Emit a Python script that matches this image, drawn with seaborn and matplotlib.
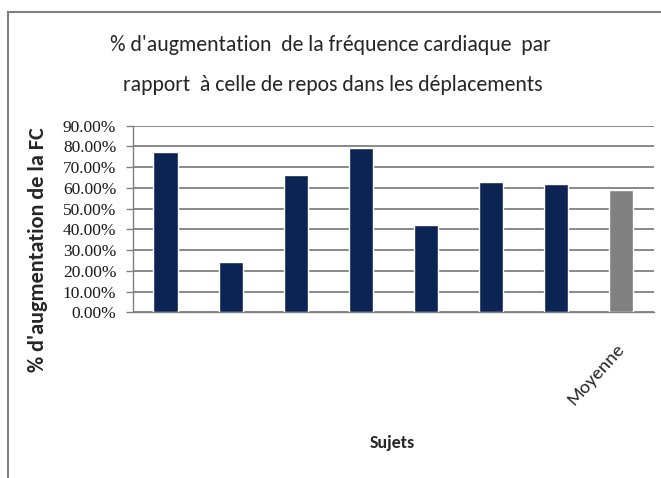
import numpy as np
import pandas as pd
import seaborn as sns
import matplotlib.pyplot as plt
from matplotlib.patches import Rectangle

# values (fraction of resting heart rate)
sujets = ["S1", "S2", "S3", "S4", "S5", "S6", "S7", "Moyenne"]
augmentation = [0.775, 0.243, 0.662, 0.794, 0.421, 0.629, 0.619, 0.592]
tick_labels = ["", "", "", "", "", "", "", "Moyenne"]
bar_colors = ["#002060"] * 7 + ["#808080"]
y_ticks = [0.0, 0.1, 0.2, 0.3, 0.4, 0.5, 0.6, 0.7, 0.8, 0.9]

data = pd.DataFrame({"sujet": sujets, "augmentation": augmentation})

sns.set_style("white")
plt.rcParams['font.family'] = ['Carlito', 'Lato', 'DejaVu Sans']

fig = plt.figure(figsize=(6.61, 4.78), dpi=100)
ax = fig.add_axes([0.2012, 0.3467, 0.7875, 0.3903])

sns.barplot(data=data, x="sujet", y="augmentation", hue="sujet",
            palette=bar_colors, width=0.37, legend=False, ax=ax, zorder=3)

ax.set_ylim(0, 0.9)
ax.set_xlim(-0.5, len(sujets) - 0.5)
ax.yaxis.grid(True, color='#808080', linewidth=1.3, zorder=0)
ax.xaxis.grid(False)
ax.tick_params(axis='y', length=5, color='#808080', width=1, pad=7, left=True,
               labelsize=12.5, labelcolor='#1a1a1a',
               labelfontfamily='Liberation Serif')
ax.set_yticks(y_ticks)
ax.set_yticklabels([f"{v * 100:.2f}%" for v in y_ticks])

# category ticks sit between the bars
ax.tick_params(axis='x', which='major', length=0, pad=24)
ax.tick_params(axis='x', which='minor', length=7, color='#808080', width=1)
ax.set_xticks(range(len(sujets)))
ax.set_xticklabels(tick_labels, rotation=48, ha='right', va='center',
                   rotation_mode='anchor', fontsize=14)
ax.set_xticks(np.arange(-0.5, len(sujets)), minor=True)

for side in ['top', 'right']:
    ax.spines[side].set_visible(False)
for side in ['left', 'bottom']:
    ax.spines[side].set_color('#808080')
    ax.spines[side].set_linewidth(1)

ax.set_xlabel("")
ax.set_ylabel("")
fig.text(392 / 661, 1 - 443 / 478, "Sujets", ha='center', va='center',
         fontsize=13, fontweight='bold')
fig.text(38 / 661, 1 - 250 / 478, "% d'augmentation de la FC", ha='center',
         va='center', rotation=90, fontsize=16, fontweight='bold')

fig.text(0.500, 0.905, "% d'augmentation  de la fréquence cardiaque  par",
         ha='center', va='center', fontsize=15.7)
fig.text(0.503, 0.822, "rapport  à celle de repos dans les déplacements",
         ha='center', va='center', fontsize=15.7)

# outer chart frame (only left and top edges fall inside the picture)
fig.patches.append(Rectangle((8 / 661, -0.1), 1.2, 1 - 12 / 478 + 0.1,
                             transform=fig.transFigure, fill=False,
                             edgecolor='#808080', linewidth=1.5))

fig.savefig("out.png", dpi=100)
